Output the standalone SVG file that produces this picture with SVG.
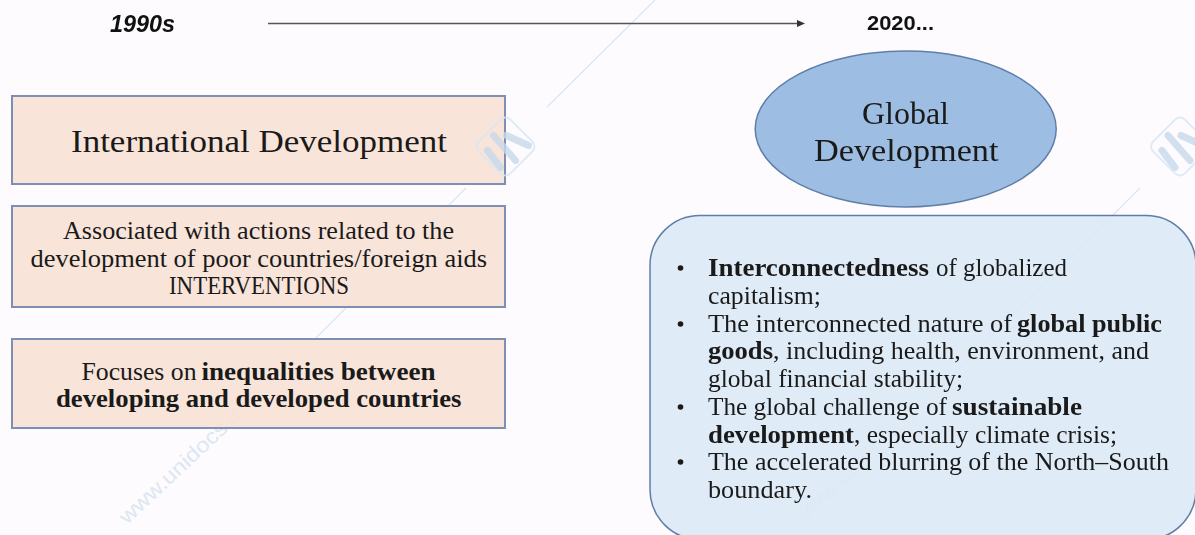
<svg xmlns="http://www.w3.org/2000/svg" width="1195" height="535" viewBox="0 0 1195 535">
<style>
.s{font-family:"Liberation Serif",serif;fill:#1a1a1a;font-size:24.500px}
.l{font-size:32px}
.b{font-weight:bold}
.h{font-family:"Liberation Sans",Arial,sans-serif;font-weight:bold;fill:#111}
.wl{stroke:#d6e6f5;stroke-width:1.100;fill:none}
.wt{font-family:"Liberation Sans",Arial,sans-serif;font-size:21px;fill:#dde7f1}
.box{fill:#f7e1d5;fill-opacity:.9;stroke:#7d8fb5;stroke-width:2}
.dot{fill:#1a1a1a}
</style>
<defs>
<marker id="ah" markerWidth="9" markerHeight="8" refX="0" refY="3.500" orient="auto" markerUnits="userSpaceOnUse"><path d="M0 0L8 3.500L0 7Z" fill="#333"/></marker>
<g id="logo"><rect x="-22.500" y="-22.500" width="45" height="45" rx="7" transform="rotate(45)" fill="none" stroke="#d8e7f5" stroke-width="2"/><g stroke="#c6d9ea" stroke-width="7" stroke-linecap="round" fill="none"><path d="M-18 4L-5 21"/><path d="M-12 -11L10 14"/><path d="M1 -11L23 -1"/></g></g>
</defs>
<rect width="1195" height="535" fill="#fdfbfe"/>

<g id="watermark"><path class="wl" d="M547 107L655 0M466 188L262 392M1140 188L936 392"/><text class="wt" transform="translate(127 525) rotate(-43)" textLength="158" lengthAdjust="spacingAndGlyphs">www.unidocs.it</text><text class="wt" transform="translate(801 525) rotate(-43)" textLength="158" lengthAdjust="spacingAndGlyphs">www.unidocs.it</text></g>

<g id="node-intl"><rect class="box" x="12" y="96" width="493" height="88"/><text class="s l"><tspan x="71" y="152" textLength="376" lengthAdjust="spacingAndGlyphs">International Development</tspan></text></g>
<g id="node-assoc"><rect class="box" x="12" y="206" width="493" height="101"/><text class="s"><tspan x="63" y="239" textLength="391" lengthAdjust="spacingAndGlyphs">Associated with actions related to the</tspan><tspan x="30.500" y="266.500" textLength="456.500" lengthAdjust="spacingAndGlyphs">development of poor countries/foreign aids</tspan><tspan x="169" y="294" textLength="180" lengthAdjust="spacingAndGlyphs">INTERVENTIONS</tspan></text></g>
<g id="node-focus"><rect class="box" x="12" y="339" width="493" height="89"/><text class="s"><tspan x="81.500" y="379.500" textLength="115" lengthAdjust="spacingAndGlyphs">Focuses on</tspan><tspan class="b" x="201.500" y="379.500" textLength="234" lengthAdjust="spacingAndGlyphs">inequalities between</tspan><tspan class="b" x="56" y="407" textLength="405.500" lengthAdjust="spacingAndGlyphs">developing and developed countries</tspan></text></g>

<g id="watermark-logos" opacity=".8"><use href="#logo" x="505.500" y="146.500"/><use href="#logo" x="1180" y="146.500"/></g>

<g id="node-global"><ellipse cx="905.700" cy="129" rx="150.500" ry="78" fill="#9dbde3" stroke="#5f7fa8" stroke-width="1.500"/><text class="s l"><tspan x="862" y="123.500" textLength="87" lengthAdjust="spacingAndGlyphs">Global</tspan><tspan x="814" y="160.500" textLength="184.500" lengthAdjust="spacingAndGlyphs">Development</tspan></text></g>
<g id="node-list"><rect x="650" y="215.500" width="546" height="324" rx="50" fill="#dce9f5" fill-opacity=".92" stroke="#5f7fa8" stroke-width="1.500"/>
<circle class="dot" cx="680.500" cy="268" r="2.800"/><circle class="dot" cx="680.500" cy="324" r="2.800"/><circle class="dot" cx="680.500" cy="407" r="2.800"/><circle class="dot" cx="680.500" cy="462" r="2.800"/>
<text class="s"><tspan class="b" x="708" y="276" textLength="221" lengthAdjust="spacingAndGlyphs">Interconnectedness</tspan><tspan x="936" y="276" textLength="131" lengthAdjust="spacingAndGlyphs">of globalized</tspan><tspan x="708" y="304" textLength="113" lengthAdjust="spacingAndGlyphs">capitalism;</tspan><tspan x="708" y="332" textLength="304" lengthAdjust="spacingAndGlyphs">The interconnected nature of</tspan><tspan class="b" x="1017" y="332" textLength="145" lengthAdjust="spacingAndGlyphs">global public</tspan><tspan class="b" x="708" y="359" textLength="65" lengthAdjust="spacingAndGlyphs">goods</tspan><tspan x="773" y="359" textLength="376" lengthAdjust="spacingAndGlyphs">, including health, environment, and</tspan><tspan x="708" y="387" textLength="255" lengthAdjust="spacingAndGlyphs">global financial stability;</tspan><tspan x="708" y="415" textLength="239" lengthAdjust="spacingAndGlyphs">The global challenge of</tspan><tspan class="b" x="952" y="415" textLength="130" lengthAdjust="spacingAndGlyphs">sustainable</tspan><tspan class="b" x="708" y="443" textLength="146" lengthAdjust="spacingAndGlyphs">development</tspan><tspan x="854" y="443" textLength="263" lengthAdjust="spacingAndGlyphs">, especially climate crisis;</tspan><tspan x="708" y="470" textLength="461" lengthAdjust="spacingAndGlyphs">The accelerated blurring of the North–South</tspan><tspan x="708" y="498" textLength="104" lengthAdjust="spacingAndGlyphs">boundary.</tspan></text></g>

<g id="node-1990s"><text class="h" x="110" y="32" font-size="23" font-style="italic" textLength="65" lengthAdjust="spacingAndGlyphs">1990s</text></g>
<g id="node-2020"><text class="h" x="867" y="30" font-size="21" textLength="67" lengthAdjust="spacingAndGlyphs">2020...</text></g>
<g id="connectors"><line x1="268" y1="23.500" x2="797" y2="23.500" stroke="#555" stroke-width="1.600" marker-end="url(#ah)"/></g>
</svg>
